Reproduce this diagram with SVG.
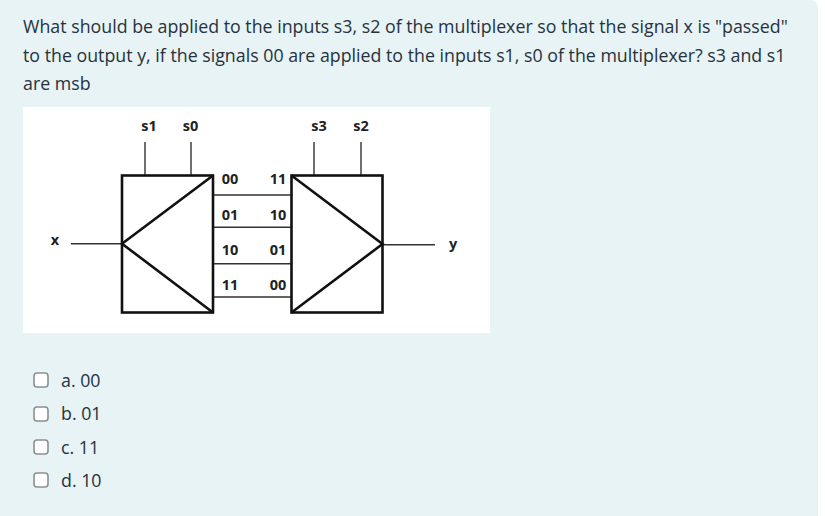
<svg xmlns="http://www.w3.org/2000/svg" width="825" height="516" viewBox="0 0 825 516">
<style>
.q{font-family:"Open Sans",sans-serif;font-size:17.8px;fill:#26323d}
.l{font-family:"Open Sans",sans-serif;font-size:14.5px;font-weight:700;fill:#222;text-anchor:middle}
.b{fill:none;stroke:#111;stroke-width:2.6}
.w{fill:none;stroke:#333;stroke-width:1.4}
.c{fill:#fff;stroke:#8a8f94;stroke-width:1.6}
</style>
<rect width="825" height="516" fill="#fff"/>
<path d="M0 0H810Q818 0 818 8V516H0Z" fill="#e7f3f5"/>
<text class="q" x="23" y="33">What should be applied to the inputs s3, s2 of the multiplexer so that the signal x is "passed"</text>
<text class="q" x="23" y="62">to the output y, if the signals 00 are applied to the inputs s1, s0 of the multiplexer? s3 and s1</text>
<text class="q" x="23" y="90">are msb</text>
<rect x="23" y="107" width="467" height="226" fill="#fff"/>
<g id="connectors">
<path class="w" d="M145 142V175M191 142V175M314 142V175M361 142V175"/>
<path class="w" d="M71 243.700H122M383 244.700H435"/>
<path class="w" d="M213 195H291M213 227.300H291M213 263.700H291M213 297H291"/>
</g>
<g id="demux">
<rect class="b" x="122" y="175.500" width="91" height="137"/>
<path class="b" d="M213 175.500L122 243.700L213 312.500"/>
</g>
<g id="mux">
<rect class="b" x="291.500" y="175.500" width="91" height="137"/>
<path class="b" d="M291.500 175.500L382.500 244L291.500 312.500"/>
</g>
<g id="labels">
<text class="l" x="149" y="131">s1</text>
<text class="l" x="190.500" y="131">s0</text>
<text class="l" x="319" y="131">s3</text>
<text class="l" x="361" y="131">s2</text>
<text class="l" x="55" y="245">x</text>
<text class="l" x="453" y="249">y</text>
<text class="l" x="230" y="184">00</text>
<text class="l" x="230" y="220">01</text>
<text class="l" x="230" y="255">10</text>
<text class="l" x="230" y="290">11</text>
<text class="l" x="278" y="184">11</text>
<text class="l" x="278" y="220">10</text>
<text class="l" x="278" y="255">01</text>
<text class="l" x="278" y="290">00</text>
</g>
<g id="options">
<rect class="c" x="34" y="373" width="14" height="14" rx="3"/>
<text class="q" x="61" y="387">a. 00</text>
<rect class="c" x="34" y="407" width="14" height="14" rx="3"/>
<text class="q" x="61" y="420">b. 01</text>
<rect class="c" x="34" y="440" width="14" height="14" rx="3"/>
<text class="q" x="61" y="454">c. 11</text>
<rect class="c" x="34" y="473" width="14" height="14" rx="3"/>
<text class="q" x="61" y="487">d. 10</text>
</g>
</svg>
